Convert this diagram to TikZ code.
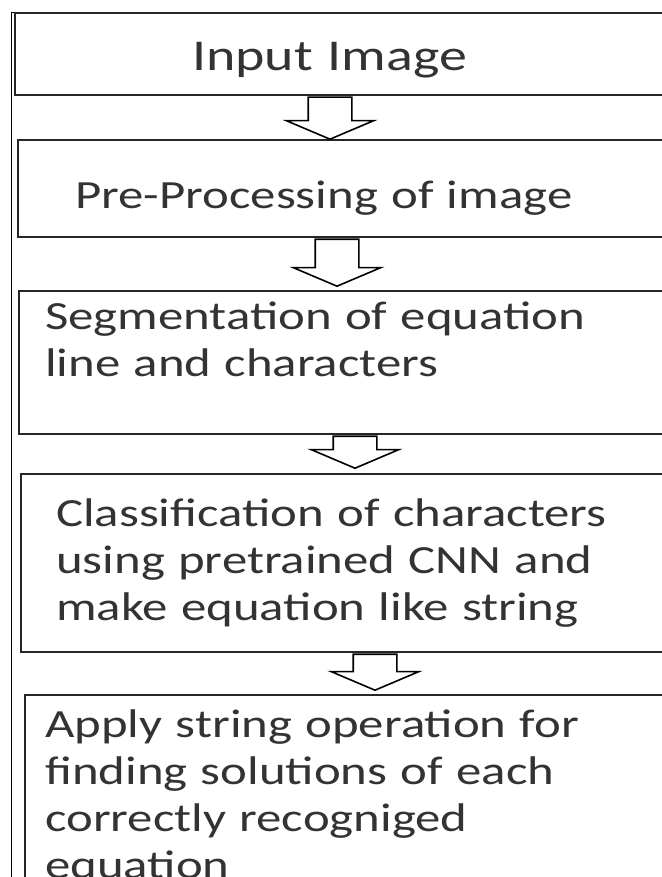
\documentclass[tikz,border=0pt]{standalone}
\usepackage{fontspec}
\usetikzlibrary{shapes.arrows}
\newfontfamily\flowfont[FakeStretch=1.27]{Carlito}

\begin{document}
\begin{tikzpicture}[x=1pt,y=-1pt,
    stage/.style={draw=black!85, line width=2.4pt, anchor=north west, inner ysep=0pt,
      text width=620pt, align=left, text=black!80,
      font=\flowfont\fontsize{40pt}{47pt}\selectfont},
    hollowdown/.style={single arrow, draw=black, line width=1.6pt, fill=white, rotate=-90,
      inner xsep=0pt, inner ysep=21pt, single arrow head extend=22pt, single arrow tip angle=134,
      anchor=tail}]
  \useasboundingbox (0,0) rectangle (661,877);
  \draw[line width=0.8pt] (11.5,877) |- (661,12);
  \node[stage, inner xsep=177pt, text height=57pt, text depth=25pt, font=\flowfont\fontsize{44pt}{50pt}\selectfont] (input) at (14,12) {Input Image};
  \node[stage, inner xsep=57pt, text height=68pt, text depth=29pt] (prep) at (17,139) {Pre-Processing of image};
  \node[stage, inner xsep=26.5pt, text height=38pt, text depth=105pt] (segm) at (17.5,290) {Segmentation of equation\\line and characters};
  \node[stage, inner xsep=35pt, text height=52pt, text depth=126pt] (clas) at (20,473) {Classification of characters\\using pretrained CNN and\\make equation like string};
  \node[stage, inner xsep=20.5pt, text height=42pt, text depth=200pt] (solve) at (23.5,694) {Apply string operation for\\finding solutions of each\\correctly recogniged\\equation};
  \node[hollowdown, minimum height=42pt] (a1) at (330,0 |- input.south) {};
  \node[hollowdown, minimum height=47pt] (a2) at (337,0 |- prep.south) {};
  \node[hollowdown, minimum height=32pt] (a3) at (355,0 |- segm.south) {};
  \node[hollowdown, minimum height=36pt] (a4) at (375,0 |- clas.south) {};
\end{tikzpicture}
\end{document}
